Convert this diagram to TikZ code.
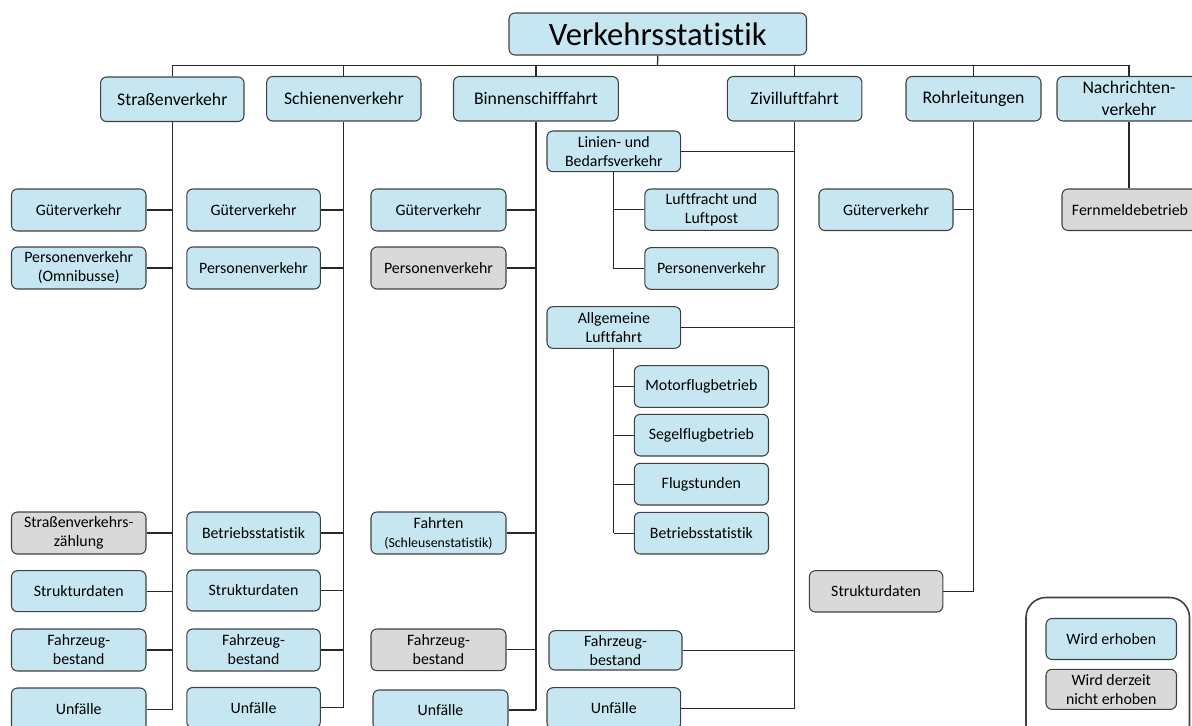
\documentclass[tikz,border=0pt]{standalone}
\usepackage{fontspec}
\setmainfont{Carlito}[Ligatures=NoCommon]
\definecolor{bluec}{RGB}{198,231,241}
\definecolor{greyc}{RGB}{217,217,217}
\definecolor{bordc}{RGB}{64,64,64}
\definecolor{linec}{RGB}{40,40,40}
\tikzset{
  box/.style={draw=bordc, fill=bluec, rounded corners=4.5pt, line width=0.8pt, align=center, inner sep=0pt, font=\fontsize{11.9}{14.3}\selectfont},
  gbox/.style={box, fill=greyc},
  hbox/.style={box, font=\fontsize{13.3}{16.5}\selectfont},
  conn/.style={draw=linec, line width=0.95pt},
}
\newcommand\mybox[7][box]{\node[#1, minimum width={(#5-#3)*0.75pt}, minimum height={(#6-#4)*0.75pt}] (#2) at ({(#3+#5)/2},{(#4+#6)/2}) {#7};}
\begin{document}
\begin{tikzpicture}[x=0.75pt,y=-0.75pt]
\useasboundingbox (0,0) rectangle (1192,725);
% title
\mybox[box, font=\fontsize{24.5}{28}\selectfont]{title}{509}{13}{806.5}{55}{Verkehrsstatistik}
% headers
\mybox[hbox]{h1}{100.6}{77}{244}{121.5}{Straßenverkehr}
\mybox[hbox]{h2}{266.7}{76.5}{421}{121}{Schienenverkehr}
\mybox[hbox]{h3}{453.5}{76.5}{618.3}{121}{Binnenschifffahrt}
\mybox[hbox]{h4}{727.3}{76.5}{861.9}{121}{Zivilluftfahrt}
\mybox[hbox]{h5}{906}{76.5}{1041}{121}{Rohrleitungen}
\mybox[hbox]{h6}{1057}{76.5}{1201}{121}{Nachrichten-\\verkehr}
% column 1
\mybox{a1}{11.5}{189}{146}{231}{Güterverkehr}
\mybox{a2}{11.5}{247}{146}{289}{Personenverkehr\\(Omnibusse)}
\mybox[gbox]{a3}{11.5}{512}{146}{554}{Straßenverkehrs-\\zählung}
\mybox{a4}{11.5}{570.7}{146}{611.7}{Strukturdaten}
\mybox{a5}{11.5}{629}{146}{671}{Fahrzeug-\\bestand}
\mybox{a6}{11.5}{688}{146}{731}{Unfälle}
% column 2
\mybox{b1}{186.8}{189}{320.3}{231}{Güterverkehr}
\mybox{b2}{186.8}{247}{320.3}{289}{Personenverkehr}
\mybox{b3}{186.8}{512}{320.3}{554}{Betriebsstatistik}
\mybox{b4}{186.8}{570}{320.3}{611}{Strukturdaten}
\mybox{b5}{186.8}{629}{320.3}{671}{Fahrzeug-\\bestand}
\mybox{b6}{186.8}{687.5}{320.3}{728}{Unfälle}
% column 3
\mybox{c1}{371}{189}{506}{231}{Güterverkehr}
\mybox[gbox]{c2}{371}{247}{506}{289}{Personenverkehr}
\mybox{c3}{371}{512}{506}{554}{Fahrten\\{\fontsize{10.4}{12}\selectfont(Schleusenstatistik)}}
\mybox[gbox]{c5}{371}{629}{506}{670.7}{Fahrzeug-\\bestand}
\mybox{c6}{373}{690}{508}{730}{Unfälle}
% column 4
\mybox{d1}{547}{131}{680.7}{171.7}{Linien- und\\Bedarfsverkehr}
\mybox{d11}{644.8}{189}{778.2}{230.3}{Luftfracht und\\Luftpost}
\mybox{d12}{644.8}{247.7}{778.2}{289.3}{Personenverkehr}
\mybox{d2}{547}{306.7}{680.7}{348.3}{Allgemeine\\Luftfahrt}
\mybox{d21}{634.3}{365.7}{768.5}{407.3}{Motorflugbetrieb}
\mybox{d22}{634.3}{414.3}{768.5}{456}{Segelflugbetrieb}
\mybox{d23}{634.3}{463.3}{768.5}{505}{Flugstunden}
\mybox{d24}{634.3}{512.3}{768.5}{554}{Betriebsstatistik}
\mybox{d3}{549}{630.7}{682}{670}{Fahrzeug-\\bestand}
\mybox{d4}{547}{687.7}{680.7}{729}{Unfälle}
% column 5
\mybox{e1}{819}{189}{953}{230.5}{Güterverkehr}
\mybox[gbox]{e2}{809.4}{570.7}{942.8}{612}{Strukturdaten}
% column 6
\mybox[gbox]{f1}{1062}{189}{1198}{230.5}{Fernmeldebetrieb}
% legend
\draw[draw=bordc, line width=1.2pt, rounded corners=15pt] (1026,597.5) rectangle (1189.5,745);
\mybox{l1}{1046}{618.5}{1176.5}{659.5}{Wird erhoben}
\mybox[gbox]{l2}{1046}{669.3}{1176.5}{709.3}{Wird derzeit\\nicht erhoben}
% top connectors
\coordinate (top) at (657.5,65.7);
\draw[conn] (title.south) -- (top);
\draw[conn] (h1.north) -- (h1.north |- top) -- (top -| h6.north) -- (h6.north);
\foreach \h in {h2,h3,h4,h5} \draw[conn] (\h.north) -- (\h.north |- top);
% trunks
\draw[conn] (h1.south) -- (h1.south |- a6.east);
\draw[conn] (h2.south) -- (h2.south |- b6.east);
\draw[conn] (h3.south) -- (h3.south |- c6.east);
\draw[conn] (h4.south) -- (h4.south |- d4.east);
\draw[conn] (h5.south) -- (h5.south |- e2.east);
\draw[conn] (h6.south) -- (h6.south |- f1.north);
\foreach \n in {a1,a2,a3,a4,a5,a6} \draw[conn] (\n.east) -- (\n.east -| h1.south);
\foreach \n in {b1,b2,b3,b4,b5,b6} \draw[conn] (\n.east) -- (\n.east -| h2.south);
\foreach \n in {c1,c2,c3,c5,c6} \draw[conn] (\n.east) -- (\n.east -| h3.south);
\foreach \n in {d1,d2,d3,d4} \draw[conn] (\n.east) -- (\n.east -| h4.south);
\foreach \n in {e1,e2} \draw[conn] (\n.east) -- (\n.east -| h5.south);
% sub trunks
\draw[conn] (d1.south) -- (d1.south |- d12.west);
\foreach \n in {d11,d12} \draw[conn] (\n.west) -- (\n.west -| d1.south);
\draw[conn] (d2.south) -- (d2.south |- d24.west);
\foreach \n in {d21,d22,d23,d24} \draw[conn] (\n.west) -- (\n.west -| d2.south);
\end{tikzpicture}
\end{document}
